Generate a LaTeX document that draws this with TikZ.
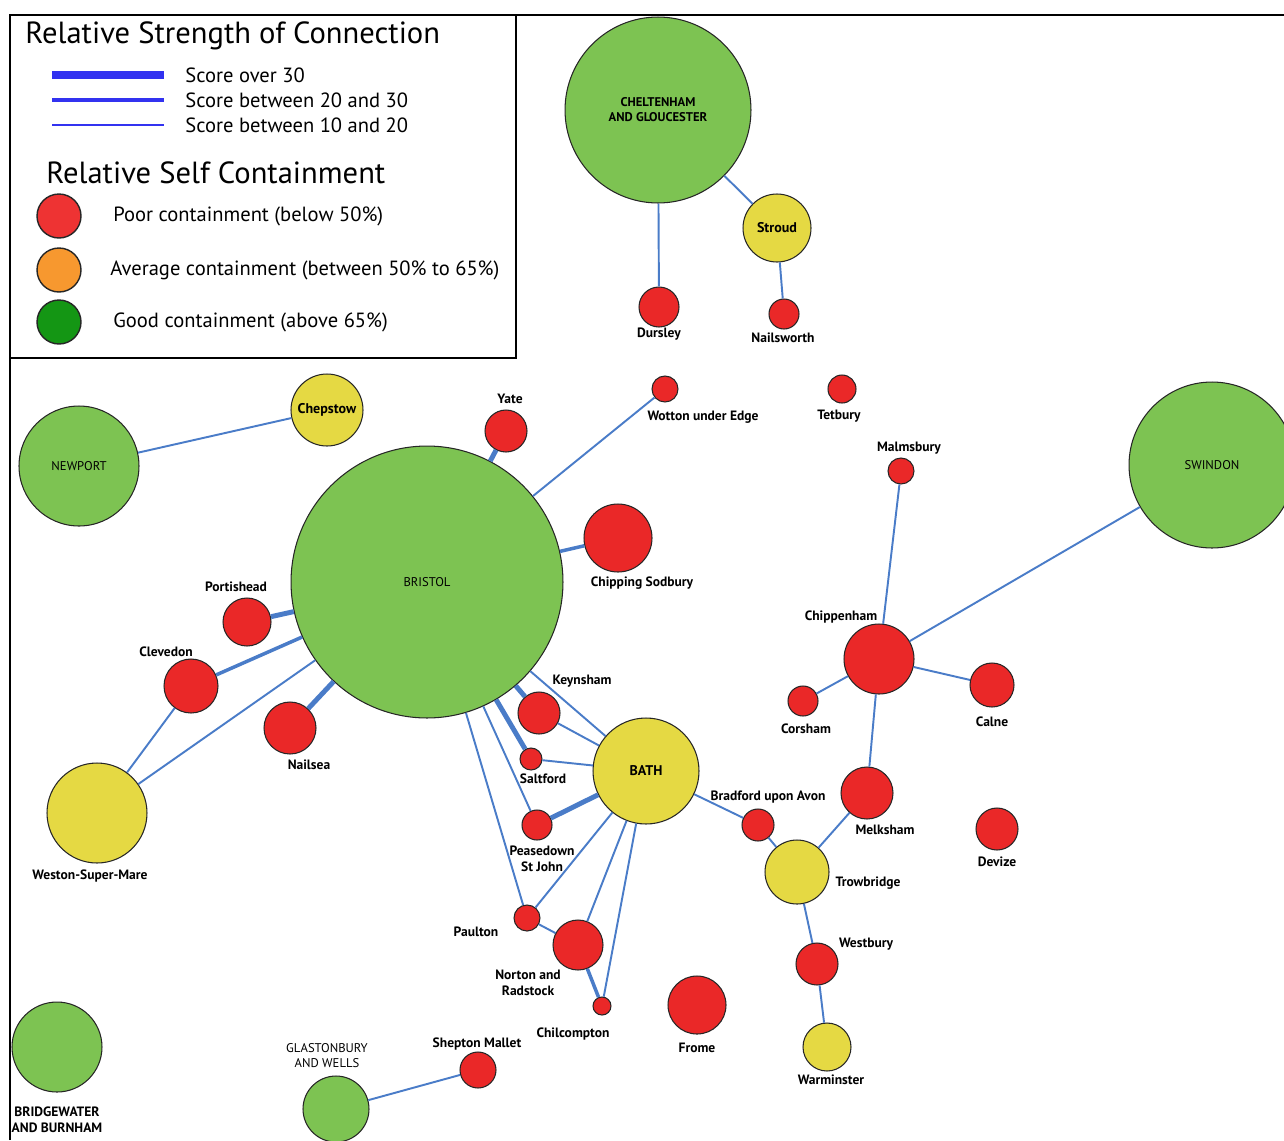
\documentclass[tikz,border=0pt]{standalone}
\usepackage{fontspec}
\setmainfont{PT Sans}
\usepackage{tikz}
\usetikzlibrary{arrows,shapes}
\definecolor{goodgreen}{RGB}{125,195,82}
\definecolor{poorred}{RGB}{234,40,40}
\definecolor{avgyellow}{RGB}{229,217,67}
\definecolor{connblue}{RGB}{74,124,200}
\definecolor{keyblue}{RGB}{50,50,240}
\definecolor{keyred}{RGB}{238,51,51}
\definecolor{keyorange}{RGB}{247,152,47}
\definecolor{keygreen}{RGB}{20,150,20}
\tikzstyle{town}=[circle,draw=black!85,line width=0.6pt,inner sep=0pt,align=center,font=\fontsize{7.2}{8.5}\selectfont]
\tikzstyle{poor}=[town,fill=poorred]
\tikzstyle{average}=[town,fill=avgyellow]
\tikzstyle{good}=[town,fill=goodgreen]
\tikzstyle{conn} = [draw,connblue,line width=1.1pt]
\tikzstyle{midconn} = [draw,connblue,line width=2pt]
\tikzstyle{strongconn} = [draw,connblue,line width=2.8pt]
\tikzstyle{townlabel} = [font=\bfseries\fontsize{7.7}{9}\selectfont,align=center,inner sep=0pt]
\tikzstyle{keytext} = [anchor=west,inner sep=0pt,font=\fontsize{11.7}{14}\selectfont]
\tikzstyle{keyhead} = [anchor=west,inner sep=0pt,font=\fontsize{17.4}{20}\selectfont]

\begin{document}
\begin{tikzpicture}[x=0.02cm,y=-0.02cm]

    \useasboundingbox (0,0) rectangle (1284,1140);

    % frame and key
    \draw[line width=1.1pt] (10,1140) -- (10,15) -- (1284,15);
    \draw[line width=1.1pt] (10,15) rectangle (516,358);

    \node[keyhead] (keyconn) at (25,36) {Relative Strength of Connection};
    \foreach \y/\w/\id/\txt in {75/4.5pt/a/{Score over 30}, 100/2.8pt/b/{Score between 20 and 30}, 125/1.1pt/c/{Score between 10 and 20}} {
        \coordinate (k\id l) at (52,\y);
        \coordinate (k\id r) at (164,\y);
        \draw[keyblue, line width=\w] (k\id l) -- (k\id r);
        \node[keytext] (kt\id) at (185,\y) {\txt};
    }

    \node[keyhead] (keyself) at (46,173) {Relative Self Containment};
    \foreach \y/\col/\x/\id/\txt in {216/keyred/113/p/{Poor containment (below 50\%)}, 270/keyorange/110/a/{Average containment (between 50\% to 65\%)}, 322/keygreen/113/g/{Good containment (above 65\%)}} {
        \node[circle, draw=black!85, line width=0.8pt, fill=\col, minimum size=44*0.2mm] (kc\id) at (59,\y) {};
        \node[keytext] (ks\id) at (\x,\y) {\txt};
    }

    % towns
    \foreach \x/\y/\r/\id/\kind/\txt in {
        658/110/93/chelt/good/{\bfseries CHELTENHAM\\\bfseries AND GLOUCESTER}, 777/228/34/stroud/average/{\bfseries\fontsize{8}{9}\selectfont Stroud},
        659/307/20/dursley/poor/{}, 784/314/15/nails/poor/{},
        665/389/13/wotton/poor/{}, 842/389/14/tetbury/poor/{}, 901/471/13/malms/poor/{},
        1212/465/83/swindon/good/{SWINDON}, 79/466/60/newport/good/{NEWPORT},
        327/410/36/chepstow/average/{\bfseries\fontsize{8}{9}\selectfont Chepstow}, 427/582/136/bristol/good/{BRISTOL},
        506/431/21/yate/poor/{}, 618/538/34/chipsod/poor/{},
        247/622/24/portis/poor/{}, 191/686/27/cleve/poor/{}, 290/728/26/nailsea/poor/{},
        97/813/50/weston/average/{}, 539/713/21/keyn/poor/{}, 531/759/11/saltf/poor/{},
        646/771/53/bath/average/{\bfseries\fontsize{8}{9}\selectfont BATH}, 537/825/15/peas/poor/{},
        527/918/13/paulton/poor/{}, 578/945/25/norton/poor/{}, 602/1006/9/chilc/poor/{},
        697/1005/29/frome/poor/{}, 478/1070/18/shepton/poor/{}, 336/1109/33/glast/good/{},
        57/1047/45/bridge/good/{}, 879/659/35/chipp/poor/{}, 803/701/15/corsham/poor/{},
        992/685/22/calne/poor/{}, 867/793/26/melk/poor/{}, 758/825/16/bradf/poor/{},
        797/872/32/trow/average/{}, 817/964/21/westb/poor/{}, 827/1047/24/warm/average/{},
        997/829/21/devize/poor/{}}
        \node[\kind, minimum size=\r*0.4mm] (\id) at (\x,\y) {\txt};

    % labels
    \foreach \x/\y/\id/\txt in {
        659/334/dursley/Dursley, 783/338/nails/Nailsworth, 703/417/wotton/Wotton under Edge,
        839/416/tetbury/Tetbury, 909/448/malms/Malmsbury, 510/399/yate/Yate,
        642/583/chipsod/Chipping Sodbury, 236/587/portis/Portishead, 166/652/cleve/Clevedon,
        309/765/nailsea/Nailsea, 90/876/weston/Weston-Super-Mare, 582/681/keyn/Keynsham,
        543/779/saltf/Saltford, 542/859/peas/{Peasedown\\St John}, 476/932/paulton/Paulton,
        528/983/norton/{Norton and\\Radstock}, 573/1034/chilc/Chilcompton, 697/1048/frome/Frome,
        477/1044/shepton/Shepton Mallet, 57/1120/bridge/{BRIDGEWATER\\AND BURNHAM},
        841/617/chipp/Chippenham, 806/729/corsham/Corsham, 992/722/calne/Calne,
        885/830/melk/Melksham, 768/797/bradf/Bradford upon Avon, 868/883/trow/Trowbridge,
        866/944/westb/Westbury, 831/1080/warm/Warminster, 997/862/devize/Devize}
        \node[townlabel] (l\id) at (\x,\y) {\txt};
    \node[townlabel, font=\fontsize{7.2}{8.5}\selectfont] (lglast) at (327,1056) {GLASTONBURY\\AND WELLS};

    % connections
    \foreach \source/\dest in {chelt/stroud, chelt/dursley, stroud/nails, newport/chepstow,
        bristol/wotton, bristol/weston, cleve/weston, bristol/bath, bristol/peas, bristol/paulton,
        keyn/bath, saltf/bath, bath/paulton, bath/norton, bath/chilc, paulton/norton,
        bath/bradf, bradf/trow, trow/melk, melk/chipp, chipp/malms, chipp/swindon,
        chipp/corsham, chipp/calne, trow/westb, westb/warm, glast/shepton}
        \path[conn] (\source) -- (\dest);

    \foreach \source/\dest in {bristol/cleve, bristol/chipsod, norton/chilc}
        \path[midconn] (\source) -- (\dest);

    \foreach \source/\dest in {bristol/yate, bristol/portis, bristol/nailsea, bristol/keyn, bristol/saltf, peas/bath}
        \path[strongconn] (\source) -- (\dest);

\end{tikzpicture}
\end{document}
